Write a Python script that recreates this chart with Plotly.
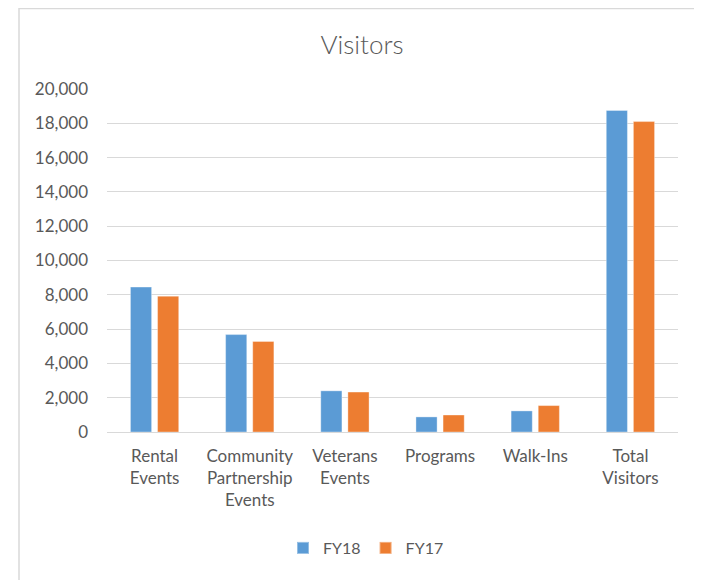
import plotly.graph_objects as go

categories = ["Rental<br>Events", "Community<br>Partnership<br>Events", "Veterans<br>Events",
              "Programs", "Walk-Ins", "Total<br>Visitors"]
fy18 = [8450, 5680, 2400, 880, 1230, 18750]
fy17 = [7920, 5280, 2330, 990, 1540, 18100]
tick_vals = [0, 2000, 4000, 6000, 8000, 10000, 12000, 14000, 16000, 18000, 20000]
tick_text = ["0", "2,000", "4,000", "6,000", "8,000", "10,000", "12,000", "14,000",
             "16,000", "18,000", "20,000"]

FONT = "Lato, 'Open Sans', sans-serif"
TXT = "#595959"

fig = go.Figure()
fig.add_trace(go.Bar(name="FY18", x=categories, y=fy18,
                     marker=dict(color="#5B9BD5", line=dict(color="rgba(255,255,255,0.35)", width=1))))
fig.add_trace(go.Bar(name="FY17", x=categories, y=fy17,
                     marker=dict(color="#ED7D31", line=dict(color="rgba(255,255,255,0.35)", width=1))))

# page body has an 8px margin, so the figure starts at screen (8, 8)
OFF = 8
W, H = 702 - OFF, 580 - OFF
L, R, T, B = 107 - OFF, 24, 89 - OFF, 148
pw, ph = W - L - R, H - T - B

def sx(px):  # screen px -> paper x
    return (px - OFF - L) / pw

def sy(py):  # screen px -> paper y
    return (H - B - (py - OFF)) / ph

fig.update_layout(
    width=W, height=H,
    margin=dict(l=L, r=R, t=T, b=B, pad=0),
    paper_bgcolor="white",
    plot_bgcolor="white",
    barmode="group",
    bargap=0.43,
    bargroupgap=0.22,
    font=dict(family=FONT, size=17, color=TXT),
    title=dict(text="Visitors", x=(362 - OFF) / W, xanchor="center", y=1 - (45 - OFF) / H,
               yanchor="middle", font=dict(family=FONT, size=26, color=TXT, weight=300)),
    showlegend=True,
    legend=dict(orientation="h", x=sx(366), xanchor="center", y=sy(548), yanchor="middle",
                font=dict(family=FONT, size=16, color=TXT), traceorder="normal",
                itemwidth=30, itemsizing="constant"),
    xaxis=dict(showgrid=False, showline=False, ticks="", ticklabelstandoff=12,
               tickfont=dict(family=FONT, size=17, color=TXT)),
    yaxis=dict(range=[0, 20000], tickvals=tick_vals, ticktext=tick_text, showgrid=True,
               gridcolor="#D9D9D9", gridwidth=1.3, zeroline=True, zerolinecolor="#D9D9D9",
               zerolinewidth=1.3, ticks="", ticklabelstandoff=18, showline=False,
               tickfont=dict(family=FONT, size=17, color=TXT)),
    shapes=[
        dict(type="rect", xref="paper", yref="paper",
             x0=sx(19), x1=sx(701), y0=sy(8.5), y1=sy(590),
             fillcolor="rgba(0,0,0,0)", line=dict(color="#D9D9D9", width=1.5), layer="below"),
    ],
)

fig.write_html("out.html")
